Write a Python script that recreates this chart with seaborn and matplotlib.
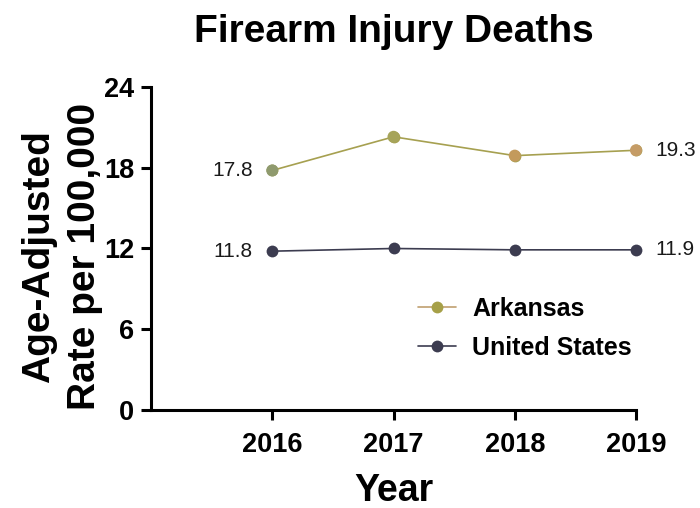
import matplotlib
matplotlib.use("Agg")
import matplotlib.pyplot as plt
import seaborn as sns
import pandas as pd
from matplotlib.lines import Line2D

years = [2016, 2017, 2018, 2019]
arkansas = [17.8, 20.3, 18.9, 19.3]
united_states = [11.8, 12.0, 11.9, 11.9]
series_names = ["Arkansas", "United States"]
y_ticks = [0, 6, 12, 18, 24]

df = pd.DataFrame({
    "Year": years * 2,
    "Rate": arkansas + united_states,
    "Region": [series_names[0]] * 4 + [series_names[1]] * 4,
})

sns.set_theme(style="ticks")
plt.rcParams["font.family"] = ["Liberation Sans", "DejaVu Sans"]
plt.rcParams.update({"text.color": "black", "axes.labelcolor": "black",
                     "xtick.color": "black", "ytick.color": "black"})

ark_line = "#a6a050"
ark_points = ["#8f9a6e", "#a6a45a", "#c39a5c", "#c59c66"]
us_color = "#3c3c50"

fig = plt.figure(figsize=(7.0, 5.08), dpi=100)
ax = fig.add_axes([0.2157, 0.193, 0.6929, 0.6357])

sns.lineplot(data=df, x="Year", y="Rate", hue="Region",
             palette={series_names[0]: ark_line, series_names[1]: us_color},
             linewidth=1.2, marker="o", markersize=8.5, markeredgewidth=0,
             legend=False, ax=ax, clip_on=False, zorder=3)
# shaded Arkansas markers on top of the line
ax.scatter(years, arkansas, s=75, c=ark_points, edgecolors="none", zorder=4, clip_on=False)

ax.set_xlim(2015, 2019)
ax.set_ylim(0, 24)
ax.set_xticks(years)
ax.set_xticklabels([str(y) for y in years])
ax.set_yticks(y_ticks)
ax.set_yticklabels([str(t) for t in y_ticks])

for s in ["top", "right"]:
    ax.spines[s].set_visible(False)
for s in ["left", "bottom"]:
    ax.spines[s].set_linewidth(2.2)
    ax.spines[s].set_color("black")
ax.tick_params(axis="both", length=7, width=2.2, color="black",
               labelcolor="black", labelsize=19.5, pad=5)
ax.tick_params(axis="x", pad=9)
for lab in ax.get_xticklabels() + ax.get_yticklabels():
    lab.set_fontweight("bold")

# value labels at the first and last year
lbl = dict(va="center", fontsize=15, color="#1a1a1a")
ax.text(years[0] - 0.16, arkansas[0], f"{arkansas[0]:.1f}", ha="right", **lbl)
ax.text(years[-1] + 0.16, arkansas[-1], f"{arkansas[-1]:.1f}", ha="left", **lbl)
ax.text(years[0] - 0.16, united_states[0], f"{united_states[0]:.1f}", ha="right", **lbl)
ax.text(years[-1] + 0.16, united_states[-1], f"{united_states[-1]:.1f}", ha="left", **lbl)

ax.set_xlabel("Year", fontsize=27, fontweight="bold", labelpad=11)
ax.set_ylabel("Age-Adjusted\nRate per 100,000", fontsize=28, fontweight="bold",
              linespacing=1.38)
ax.yaxis.set_label_coords(-0.098, 0.475)
fig.suptitle("Firearm Injury Deaths", fontsize=28, fontweight="bold", x=0.563, y=0.972)

handles = [
    Line2D([0], [0], color="#c0a070", lw=1.2, marker="o", markersize=8.5,
           markerfacecolor="#a6a048", markeredgewidth=0),
    Line2D([0], [0], color=us_color, lw=1.2, marker="o", markersize=8.5,
           markerfacecolor=us_color, markeredgewidth=0),
]
leg = ax.legend(handles, series_names, loc="upper left", bbox_to_anchor=(0.505, 0.42),
                frameon=False, handlelength=1.5, handletextpad=0.65, labelspacing=0.6,
                prop={"size": 18, "weight": "bold"})

fig.savefig("out.png", dpi=100)
